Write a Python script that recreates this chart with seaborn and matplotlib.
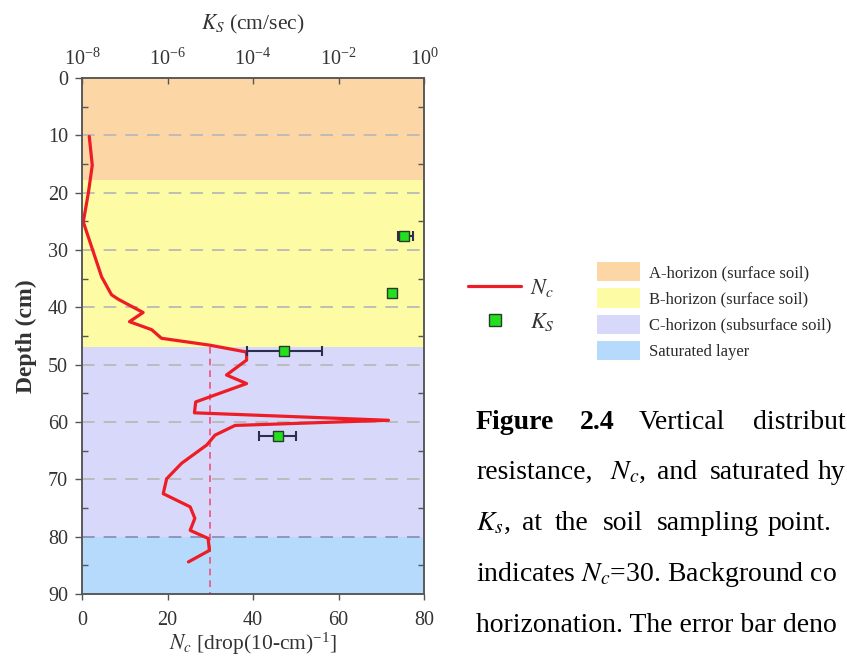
import matplotlib
matplotlib.use("Agg")
import matplotlib.pyplot as plt
from matplotlib.lines import Line2D
from matplotlib.patches import Patch
import numpy as np
import seaborn as sns

# ---- data -------------------------------------------------------------
# cone penetration resistance profile
nc_depth = [10.2, 15.2, 20.0, 25.1, 34.7, 37.8, 38.6, 40.9, 42.5, 43.9, 45.4,
            46.6, 47.8, 49.2, 51.8, 53.3, 56.5, 58.4, 59.7, 60.6, 62.3, 64.0,
            67.2, 69.9, 72.5, 74.8, 76.8, 78.9, 80.3, 82.4, 84.4]
nc_value = [1.7, 2.4, 1.5, 0.3, 4.6, 6.9, 8.5, 14.3, 11.1, 16.3, 18.6,
            29.9, 38.5, 38.5, 33.8, 38.5, 26.6, 26.3, 71.7, 35.8, 31.1, 29.2,
            23.3, 19.8, 19.0, 25.3, 26.4, 25.3, 29.5, 29.8, 24.9]
nc_threshold = 30

# saturated hydraulic conductivity (cm/sec) with min/max range
ks_depth = [27.5, 37.5, 47.6, 62.5]
ks_value = [0.34, 0.18, 5.4e-4, 3.9e-4]
ks_low = [0.25, 0.18, 7.1e-5, 1.41e-4]
ks_high = [0.54, 0.18, 4.1e-3, 1.02e-3]

# soil horizons
horizon_names = ["A-horizon (surface soil)", "B-horizon (surface soil)",
                 "C-horizon (subsurface soil)", "Saturated layer"]
horizon_top = [0, 17.8, 46.9, 80]
horizon_bottom = [17.8, 46.9, 80, 90]
horizon_colors = ["#FCD6A4", "#FDFCA4", "#D8D8FA", "#B5DAFB"]

depth_ticks = [0, 10, 20, 30, 40, 50, 60, 70, 80, 90]
grid_depths = [10, 20, 30, 40, 50, 60, 70, 80]
nc_ticks = [0, 20, 40, 60, 80]
ks_ticks = [1e-8, 1e-6, 1e-4, 1e-2, 1e0]

# ---- style -------------------------------------------------------------
sns.set_style("ticks")
plt.rcParams["font.family"] = ["Liberation Serif", "DejaVu Serif"]
plt.rcParams["mathtext.fontset"] = "stix"
plt.rcParams["mathtext.default"] = "regular"

W, H = 847, 660
fig = plt.figure(figsize=(W / 100, H / 100), dpi=100)
fig.patch.set_facecolor("white")

ax = fig.add_axes([82 / W, 1 - 594 / H, (424 - 82) / W, (594 - 78) / H])

# horizon backgrounds
for top, bot, col in zip(horizon_top, horizon_bottom, horizon_colors):
    ax.axhspan(top, bot, color=col, lw=0, zorder=0)

# dashed reference gridlines
for d in grid_depths:
    gcol = "#8C90B8" if d == 80 else "#B9B9B9"
    ax.axhline(d, color=gcol, lw=1.3, ls=(0, (7, 5)), zorder=1)

# Nc = 30 threshold within the C-horizon and below
ax.vlines(nc_threshold, horizon_top[2], horizon_bottom[3], colors="#F0507C",
          lw=1.2, linestyles=(0, (4, 3)), zorder=2)

sns.lineplot(x=nc_value, y=nc_depth, sort=False, orient="y", ax=ax,
             color="#EE1C24", lw=2.3, zorder=3)

ax.set_xlim(0, 80)
ax.set_ylim(90, 0)
ax.set_xticks(nc_ticks)
ax.set_yticks(depth_ticks)
ax.set_yticks([5, 15, 25, 35, 45, 55, 65, 75, 85], minor=True)
ax.tick_params(axis="y", which="major", direction="out", length=5, width=1,
               labelsize=14.5, pad=5, color="#555555", labelcolor="#333333")
ax.tick_params(axis="y", which="minor", direction="in", length=4, width=1,
               left=True, right=True, color="#555555")
ax.tick_params(axis="x", which="major", direction="out", length=4, width=1,
               labelsize=14.5, pad=8, color="#555555", labelcolor="#333333")
ax.set_xlabel(r"$\mathit{N_c}$ [drop(10-cm)$^{-1}$]", fontsize=15.5,
              color="#333333", labelpad=1)
ax.set_ylabel("Depth (cm)", fontsize=17, fontweight="bold", color="#333333",
              labelpad=8)
for sp in ax.spines.values():
    sp.set_color("#555555")
    sp.set_linewidth(1.1)

# top axis: hydraulic conductivity on a log scale
ax2 = ax.twiny()
ax2.set_xscale("log")
ax2.set_xlim(1e-8, 1e0)
ks_arr = np.array(ks_value)
xerr = [ks_arr - np.array(ks_low), np.array(ks_high) - ks_arr]
ax2.errorbar(ks_value, ks_depth, xerr=xerr, fmt="none", ecolor="#2A2F4F",
             elinewidth=1.5, capsize=3.3, capthick=1.5, zorder=4)
sns.scatterplot(x=ks_value, y=ks_depth, ax=ax2, marker="s", s=62,
                color="#22E01E", edgecolor="#2B3A2B", linewidth=1.0, zorder=5)
ax2.set_xticks(ks_ticks)
ax2.xaxis.set_minor_locator(matplotlib.ticker.NullLocator())
ax2.tick_params(axis="x", which="major", direction="in", length=4, width=1,
                labelsize=14.5, pad=6, color="#555555", labelcolor="#333333")
ax2.set_xlabel(r"$\mathit{K_S}$ (cm/sec)", fontsize=15.5, color="#333333",
               labelpad=14)
ax2.set_ylim(90, 0)
for sp in ax2.spines.values():
    sp.set_color("#555555")
    sp.set_linewidth(1.1)

# legends
series_handles = [
    Line2D([], [], color="#EE1C24", lw=2.3),
    Line2D([], [], ls="none", marker="s", markersize=8,
           markerfacecolor="#22E01E", markeredgecolor="#2B3A2B"),
]
fig.legend(series_handles, [r"$\mathit{N_c}$", r"$\mathit{K_S}$"],
           loc="upper left", bbox_to_anchor=(468 / W, 1 - 277 / H),
           frameon=False, fontsize=16, handlelength=2.4, handletextpad=0.4,
           labelspacing=0.55, borderpad=0, borderaxespad=0,
           labelcolor="#333333")

horizon_handles = [Patch(facecolor=c, edgecolor="none") for c in horizon_colors]
fig.legend(horizon_handles, horizon_names, loc="upper left",
           bbox_to_anchor=(597 / W, 1 - 262 / H), frameon=False, fontsize=12,
           handlelength=2.6, handleheight=1.4, handletextpad=0.5,
           labelspacing=0.42, borderpad=0, borderaxespad=0,
           labelcolor="#2A2A2A")

# caption (right part runs past the figure edge)
cap_fs = 20
line_y = [1 - 429 / H, 1 - 479 / H, 1 - 530 / H, 1 - 581 / H, 1 - 632 / H]


def word(x, y, s, **kw):
    fig.text(x / W, y, s, fontsize=cap_fs, color="black", va="baseline",
             ha="left", **kw)


word(476, line_y[0], "Figure", fontweight="bold")
word(580, line_y[0], "2.4", fontweight="bold")
word(639, line_y[0], "Vertical")
word(753, line_y[0], "distribut")

word(476, line_y[1], "resistance,")
word(610, line_y[1], r"$\mathit{N_c}$,")
word(657, line_y[1], "and")
word(710, line_y[1], "saturated")
word(818, line_y[1], "hy")

word(476, line_y[2], r"$\mathit{K_s}$,")
word(522, line_y[2], "at")
word(555, line_y[2], "the")
word(603, line_y[2], "soil")
word(657, line_y[2], "sampling")
word(768, line_y[2], "point.")

word(476, line_y[3], r"indicates $\mathit{N_c}$=30. Background co")
word(476, line_y[4], "horizonation. The error bar deno")

fig.savefig("out.png", dpi=100)
